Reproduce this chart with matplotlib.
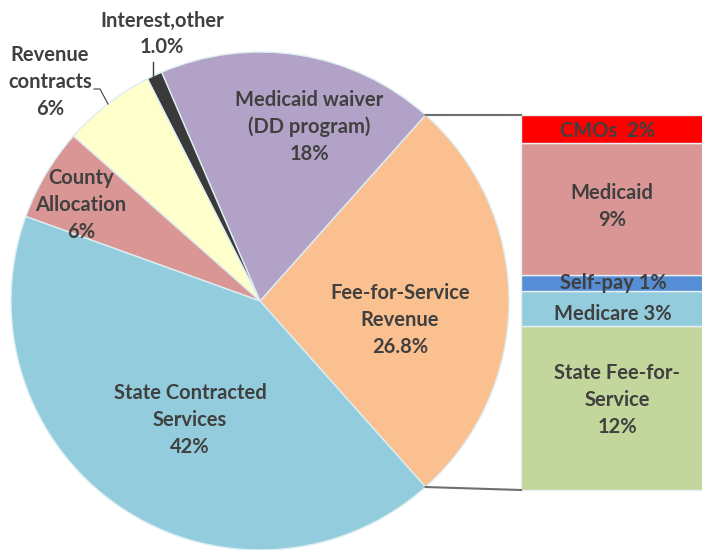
import matplotlib
matplotlib.use("Agg")
import matplotlib.pyplot as plt
import numpy as np

# Pie data
pie_labels = ["Fee-for-Service\nRevenue\n26.8%", "Medicaid waiver\n(DD program)\n18%",
              "Interest,other\n1.0%", "Revenue\ncontracts\n6%", "County\nAllocation\n6%",
              "State Contracted\nServices\n42%"]
pie_values = [26.8, 18, 1.0, 6, 6, 42]
pie_colors = ["#FAC090", "#B3A2C7", "#3A3A3A", "#FFFFCC", "#D99694", "#93CDDD"]

# Bar (breakdown of Fee-for-Service), bottom to top
bar_labels = ["State Fee-for-\nService\n12%", "Medicare 3%", "Self-pay 1%", "Medicaid\n9%", "CMOs  2%"]
bar_values = [11.7, 2.5, 1.2, 9.4, 2.0]
bar_colors = ["#C3D69B", "#93CDDD", "#558ED5", "#D99694", "#FF0000"]

W, H = 702, 550
fig = plt.figure(figsize=(W / 100, H / 100), dpi=100)
ax = fig.add_axes([0, 0, 1, 1])

txt = dict(color="#404040", fontweight="bold", family=["Lato", "DejaVu Sans"], fontsize=14.5,
           ha="center", va="center", linespacing=1.42)

cx, cy, R = 260, H - 301, 249
first = pie_values[0] / sum(pie_values) * 360
ax.pie(pie_values, colors=pie_colors, center=(cx, cy), radius=R,
       startangle=-first / 2, counterclock=True,
       wedgeprops=dict(edgecolor="#DDEEF3", linewidth=1.0), frame=True)

# Bar stack
bar_left, bar_w = 521, 185
bar_bottom, bar_top = H - 490, H - 115
scale = (bar_top - bar_bottom) / sum(bar_values)
bottoms = np.concatenate([[0], np.cumsum(bar_values)[:-1]])
ax.bar([bar_left] * len(bar_values), np.array(bar_values) * scale,
       bottom=bar_bottom + bottoms * scale, width=bar_w, align="edge",
       color=bar_colors, edgecolor="#E6F0F4", linewidth=1.0, zorder=2)
label_dx = [617, 613, 613, 612, 607]
label_dy = [8, -5, 0, 2, -2]
for lab, v, b, lx, dy in zip(bar_labels, bar_values, bottoms, label_dx, label_dy):
    yc = bar_bottom + (b + v / 2) * scale + dy
    ax.text(lx, yc, lab, zorder=3, **txt)

# Connector lines from pie to bar
a1 = np.deg2rad(first / 2)
px = cx + R * np.cos(a1)
ax.plot([px, bar_left], [cy + R * np.sin(a1), bar_top], color="#6E6E6E", lw=1.5)
ax.plot([px, bar_left], [cy - R * np.sin(a1), bar_bottom], color="#6E6E6E", lw=1.5)

# Pie labels (pixel coordinates converted)
pos = {
    0: (400, 320),
    1: (309, 127),
    2: (162, 34),
    3: (50, 82),
    4: (81, 205),
    5: (190, 420),
}
for i, lab in enumerate(pie_labels):
    x, y = pos[i]
    ax.text(x, H - y, lab, **txt)

# leader lines
ax.plot([153, 153], [H - 62, H - 76], color="#404040", lw=1)
ax.plot([94, 100, 108], [H - 89, H - 89, H - 104], color="#404040", lw=0.8)

ax.set_xlim(0, W)
ax.set_ylim(0, H)
ax.set_aspect("equal")
ax.axis("off")

fig.savefig("out.png", dpi=100)
